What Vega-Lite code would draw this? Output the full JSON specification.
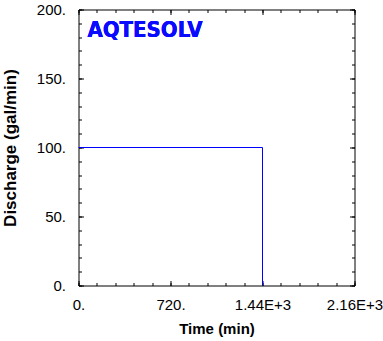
{
  "$schema": "https://vega.github.io/schema/vega-lite/v6.json",
  "width": 276,
  "height": 276,
  "autosize": "none",
  "padding": {"left": 78.5, "top": 9.5, "right": 28.5, "bottom": 55.5},
  "background": "white",
  "config": {
    "view": {"stroke": "black", "strokeWidth": 1},
    "axis": {
      "grid": false,
      "domain": false,
      "tickColor": "black",
      "tickWidth": 1,
      "labelFont": "Liberation Sans",
      "labelFontSize": 15,
      "labelColor": "black",
      "labelFlush": false,
      "labelOverlap": false,
      "titleFont": "Liberation Sans",
      "titleFontSize": 15,
      "titleFontWeight": "bold",
      "titleColor": "black"
    }
  },
  "data": {
    "values": [
      {"t": 0, "q": 100, "step": 1},
      {"t": 1440, "q": 100, "step": 2},
      {"t": 1440, "q": 0, "step": 3}
    ]
  },
  "layer": [
    {
      "mark": {"type": "point", "opacity": 0, "size": 0},
      "encoding": {
        "x": {"field": "t", "type": "quantitative", "scale": {"domain": [0, 2160], "nice": false, "zero": false},
          "axis": {"orient": "bottom", "title": null, "labels": false, "values": [0, 144, 288, 432, 576, 720, 864, 1008, 1152, 1296, 1440, 1584, 1728, 1872, 2016, 2160], "tickSize": -3}},
        "y": {"field": "q", "type": "quantitative", "scale": {"domain": [0, 200], "nice": false},
          "axis": {"orient": "left", "title": null, "labels": false, "values": [0, 10, 20, 30, 40, 50, 60, 70, 80, 90, 100, 110, 120, 130, 140, 150, 160, 170, 180, 190, 200], "tickSize": -3}}
      }
    },
    {
      "mark": {"type": "point", "opacity": 0, "size": 0},
      "encoding": {
        "x": {"field": "t", "type": "quantitative", "scale": {"domain": [0, 2160], "nice": false, "zero": false},
          "axis": {"orient": "top", "title": null, "labels": false, "values": [0, 144, 288, 432, 576, 720, 864, 1008, 1152, 1296, 1440, 1584, 1728, 1872, 2016, 2160], "tickSize": -3}},
        "y": {"field": "q", "type": "quantitative", "scale": {"domain": [0, 200], "nice": false},
          "axis": {"orient": "right", "title": null, "labels": false, "values": [0, 10, 20, 30, 40, 50, 60, 70, 80, 90, 100, 110, 120, 130, 140, 150, 160, 170, 180, 190, 200], "tickSize": -3}}
      }
    },
    {
      "mark": {"type": "point", "opacity": 0, "size": 0},
      "encoding": {
        "x": {"field": "t", "type": "quantitative", "scale": {"domain": [0, 2160], "nice": false, "zero": false},
          "axis": {"orient": "top", "title": null, "labels": false, "values": [0, 720, 1440, 2160], "tickSize": -5}},
        "y": {"field": "q", "type": "quantitative", "scale": {"domain": [0, 200], "nice": false},
          "axis": {"orient": "right", "title": null, "labels": false, "values": [0, 50, 100, 150, 200], "tickSize": -5}}
      }
    },
    {
      "mark": {"type": "line", "color": "#0000ff", "strokeWidth": 1},
      "encoding": {
        "x": {
          "field": "t", "type": "quantitative",
          "scale": {"domain": [0, 2160], "nice": false, "zero": false},
          "axis": {
            "orient": "bottom", "title": "Time (min)",
            "values": [0, 720, 1440, 2160], "tickSize": -5, "labelPadding": 17,
            "labelExpr": "datum.value == 0 ? '0.' : datum.value == 720 ? '720.' : datum.value == 1440 ? '1.44E+3' : '2.16E+3'",
            "titlePadding": 9
          }
        },
        "y": {
          "field": "q", "type": "quantitative",
          "scale": {"domain": [0, 200], "nice": false},
          "axis": {
            "orient": "left", "title": "Discharge (gal/min)", "titleFontSize": 17,
            "values": [0, 50, 100, 150, 200], "tickSize": -5, "labelPadding": 18,
            "labelExpr": "datum.value + '.'",
            "titlePadding": 17
          }
        },
        "order": {"field": "step"}
      }
    },
    {
      "mark": {"type": "text", "text": "AQTESOLV", "font": "DejaVu Sans Condensed, DejaVu Sans", "fontWeight": "bold", "fontSize": 22, "color": "#0a0aff", "align": "left", "baseline": "alphabetic"},
      "encoding": {
        "x": {"datum": 70, "type": "quantitative", "scale": {"domain": [0, 2160], "nice": false, "zero": false}, "axis": null},
        "y": {"datum": 180, "type": "quantitative", "scale": {"domain": [0, 200], "nice": false}, "axis": null}
      }
    }
  ],
  "resolve": {"axis": {"x": "independent", "y": "independent"}}
}
